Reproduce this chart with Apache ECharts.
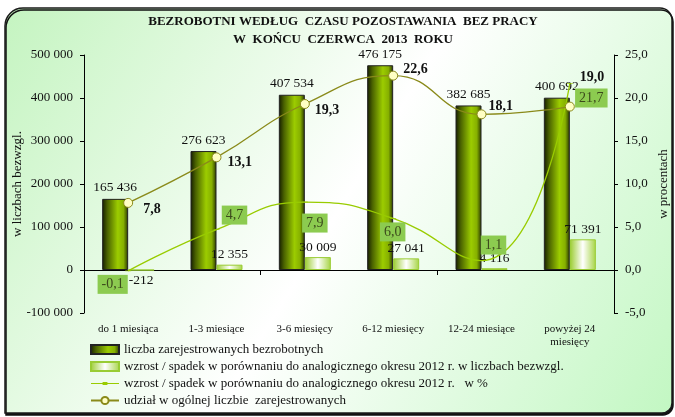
<!DOCTYPE html>
<html>
<head>
<meta charset="utf-8">
<script src="https://cdn.jsdelivr.net/npm/echarts@6/dist/echarts.min.js"></script>
<style>html,body{margin:0;padding:0;background:#fff}#c{width:675px;height:417px}</style>
</head>
<body>
<div id="c"></div>
<script>
const categories = ['do 1 miesiąca', '1-3 miesiące', '3-6 miesięcy', '6-12 miesięcy', '12-24 miesiące', 'powyżej 24\nmiesięcy'];
const registered = [165436, 276623, 407534, 476175, 382685, 400692];
const changeAbs = [-212, 12355, 30009, 27041, 4116, 71391];
const changePct = [-0.1, 4.7, 7.9, 6.0, 1.1, 21.7];
const share = [7.8, 13.1, 19.3, 22.6, 18.1, 19.0];
const leftTicks = { min: -100000, max: 500000, interval: 100000 };
const rightTicks = { min: -5, max: 25, interval: 5 };
const seriesNames = [
  'liczba zarejestrowanych bezrobotnych',
  'wzrost / spadek w porównaniu do analogicznego okresu 2012 r. w liczbach bezwzgl.',
  'wzrost / spadek w porównaniu do analogicznego okresu 2012 r.   w %',
  'udział w ogólnej liczbie  zarejestrowanych'
];

// label placement (styles only)
const shareLabelOffsets = [[5, 6], [1, 5], [0, 6], [0, -6], [-3, -8], [0, -29]];
const pctLabelOffsets = [[-15.5, 13.5], [18, -14.5], [10, 21], [-0.5, 13.5], [12, -15.5], [21.5, 14.5]];

const FONT = '"Liberation Serif", "Times New Roman", serif';
const thousands = v => String(v).replace(/\B(?=(\d{3})+(?!\d))/g, ' ');
const dec1 = v => Number(v).toFixed(1).replace('.', ',');

const chart = echarts.init(document.getElementById('c'), null, { renderer: 'canvas' });

const bigBarColor = new echarts.graphic.LinearGradient(0, 0, 1, 0, [
  { offset: 0, color: '#141c00' },
  { offset: 0.2, color: '#4a6200' },
  { offset: 0.6, color: '#9ccc00' },
  { offset: 0.82, color: '#86b000' },
  { offset: 1, color: '#263300' }
]);
const smallBarColor = new echarts.graphic.LinearGradient(0, 0, 1, 0, [
  { offset: 0, color: '#9acc2e' },
  { offset: 0.5, color: '#ffffff' },
  { offset: 1, color: '#a6d444' }
]);

const option = {
  animation: false,
  textStyle: { fontFamily: FONT },
  graphic: [
    {
      type: 'rect', z: -10, silent: true,
      shape: { x: 5, y: 8, width: 667, height: 405, r: [18, 12, 10, 0] },
      style: {
        fill: { type: 'linear', x: 0, y: 0, x2: 1, y2: 1, colorStops: [
          { offset: 0, color: '#c4f4c0' },
          { offset: 0.5, color: '#ffffff' },
          { offset: 1, color: '#c2f7c2' }
        ] },
        stroke: '#1a1a1a', lineWidth: 1.5,
        shadowColor: '#111', shadowOffsetX: 1, shadowOffsetY: 2, shadowBlur: 0
      }
    },
    {
      type: 'text', silent: true,
      style: {
        text: 'BEZROBOTNI WEDŁUG  CZASU POZOSTAWANIA  BEZ PRACY\nW  KOŃCU  CZERWCA  2013  ROKU',
        x: 343, y: 13, textAlign: 'center', textVerticalAlign: 'top',
        font: 'bold 13px ' + FONT, lineHeight: 18, fill: '#111'
      }
    }
  ],
  grid: { left: 84, right: 61, top: 55, bottom: 104, containLabel: false, outerBoundsMode: 'none' },
  legend: {
    orient: 'vertical', left: 90, top: 343, height: 90,
    itemWidth: 28, itemHeight: 9, itemGap: 4, padding: 0,
    symbolKeepAspect: true,
    textStyle: { fontSize: 13, color: '#111', fontFamily: FONT },
    data: [
      { name: seriesNames[0], icon: 'rect' },
      { name: seriesNames[1], icon: 'rect' },
      { name: seriesNames[2], icon: 'path://M0,4 L29,4 L29,5 L0,5 Z M12,3 L17,3 L17,6 L12,6 Z' },
      { name: seriesNames[3] }
    ]
  },
  xAxis: [
    {
      type: 'category', data: categories,
      axisLine: { onZero: true, lineStyle: { color: '#000', width: 1 } },
      axisTick: { show: true, length: 5, lineStyle: { color: '#000' } },
      axisLabel: { show: false }
    },
    {
      type: 'category', data: categories, position: 'bottom',
      axisLine: { show: false, onZero: false }, axisTick: { show: false },
      axisLabel: { interval: 0, fontSize: 11, color: '#111', margin: 10, lineHeight: 13, fontFamily: FONT }
    }
  ],
  yAxis: [
    {
      type: 'value', min: leftTicks.min, max: leftTicks.max, interval: leftTicks.interval,
      name: 'w liczbach bezwzgl.', nameLocation: 'middle', nameGap: 60, nameRotate: 90, nameMoveOverlap: false,
      nameTextStyle: { fontSize: 13, color: '#111', fontFamily: FONT },
      axisLine: { show: true, onZero: false, lineStyle: { color: '#000' } },
      axisTick: { show: true, length: 4, lineStyle: { color: '#000' } },
      axisLabel: { fontSize: 13, color: '#111', margin: 11, formatter: thousands, fontFamily: FONT },
      splitLine: { show: false }
    },
    {
      type: 'value', min: rightTicks.min, max: rightTicks.max, interval: rightTicks.interval,
      position: 'right',
      name: 'w procentach', nameLocation: 'middle', nameGap: 43, nameRotate: 90, nameMoveOverlap: false,
      nameTextStyle: { fontSize: 13, color: '#111', fontFamily: FONT },
      axisLine: { show: true, onZero: false, lineStyle: { color: '#000' } },
      axisTick: { show: true, length: 4, lineStyle: { color: '#000' } },
      axisLabel: { fontSize: 13, color: '#111', margin: 11, formatter: dec1, fontFamily: FONT },
      splitLine: { show: false }
    }
  ],
  series: [
    {
      name: seriesNames[0], type: 'bar', xAxisIndex: 0, yAxisIndex: 0,
      barWidth: 26, barGap: '0%',
      data: registered,
      itemStyle: { color: bigBarColor, borderColor: '#222', borderWidth: 1 },
      label: { show: true, position: 'top', distance: 4, fontSize: 13.5, color: '#111', fontFamily: FONT, formatter: p => thousands(p.value) },
      z: 2
    },
    {
      name: seriesNames[1], type: 'bar', xAxisIndex: 0, yAxisIndex: 0,
      barWidth: 26, barGap: '0%',
      data: changeAbs.map(v => v < 0 ? { value: v, label: { position: 'bottom' } } : v),
      itemStyle: { color: smallBarColor, borderColor: '#99cc33', borderWidth: 1 },
      label: { show: true, position: 'top', distance: 3, fontSize: 13.5, color: '#111', fontFamily: FONT, formatter: p => thousands(p.value) },
      z: 2
    },
    {
      name: seriesNames[2], type: 'line', xAxisIndex: 0, yAxisIndex: 1,
      smooth: 0.5,
      data: changePct.map((v, i) => ({ value: v, label: { offset: pctLabelOffsets[i] } })),
      symbol: 'path://M0,0 L6,0 L6,2 L0,2 Z', symbolSize: [6, 2], symbolKeepAspect: true,
      itemStyle: { color: '#99cc00' },
      lineStyle: { color: '#99cc00', width: 1.3 },
      label: {
        show: true, position: 'inside', fontSize: 14, color: '#3c4a1c', fontFamily: FONT,
        backgroundColor: '#8ccb50', padding: [3, 4, 2, 4], formatter: p => dec1(p.value)
      },
      z: 4
    },
    {
      name: seriesNames[3], type: 'line', xAxisIndex: 0, yAxisIndex: 1,
      smooth: 0.5,
      data: share.map((v, i) => ({ value: v, label: { offset: shareLabelOffsets[i] } })),
      symbol: 'circle', symbolSize: 9,
      itemStyle: { color: '#ffffc4', borderColor: '#8a8a1a', borderWidth: 1 },
      lineStyle: { color: '#8a8a1a', width: 1.3 },
      label: { show: true, position: 'right', distance: 5, fontSize: 14, fontWeight: 'bold', color: '#111', fontFamily: FONT, formatter: p => dec1(p.value) },
      z: 5
    }
  ]
};
chart.setOption(option);
</script>
</body>
</html>
